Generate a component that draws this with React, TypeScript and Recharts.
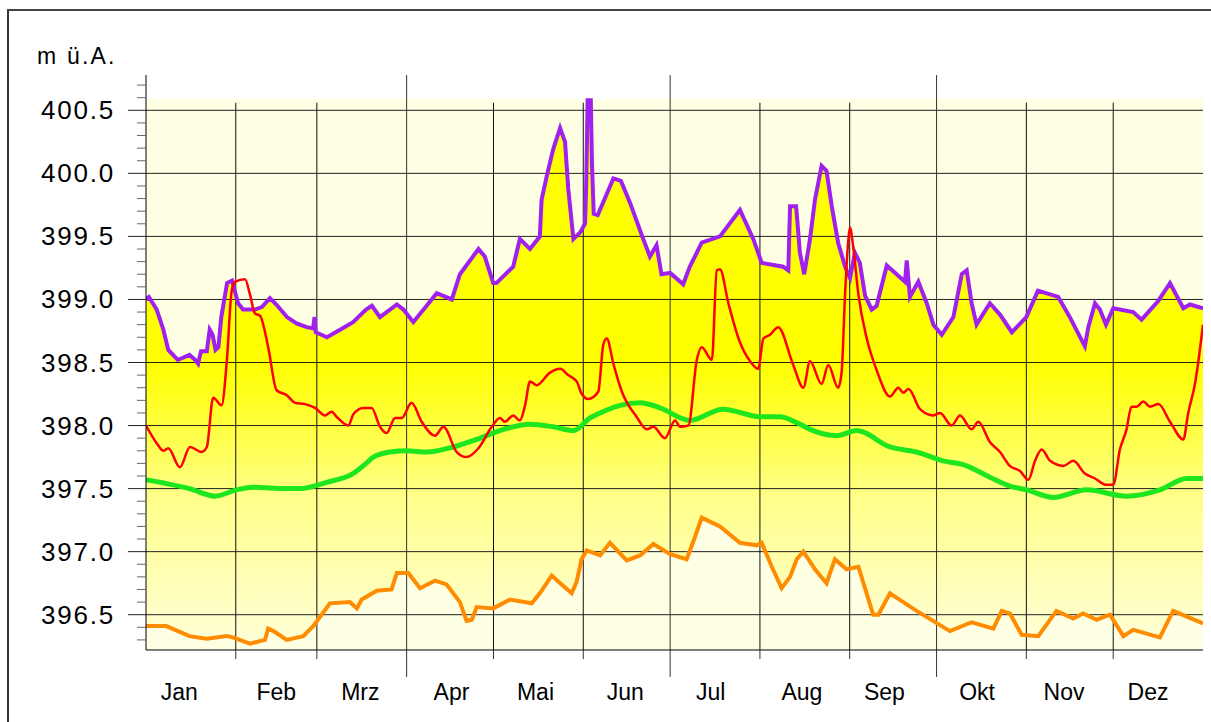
import {
  ComposedChart,
  Area,
  Line,
  XAxis,
  YAxis,
  ReferenceLine,
  ReferenceArea,
} from "recharts";

// Tagesindex (0 = 1. Jan) und Pegelwerte in m ü.A.
const maxDays = [
  0, 1, 3.7, 6, 7.7, 11, 15, 17, 18, 19, 21, 22, 23, 24, 25, 25.5, 26, 28, 29.7, 31.8, 33.5, 37.6, 40,
  42.8, 45, 48.7, 52, 55.5, 57.7, 58.2, 58.6, 62.5, 67, 71.5, 76, 78, 80.8, 86.6, 88.9, 92.3, 100.4,
  105.6, 108.4, 114.8, 117, 119.9, 121, 126.8, 129.1, 132.6, 136, 136.6, 138.4, 140.6, 143, 144.7,
  145.8, 147.6, 149.9, 151.6, 152, 152.5, 153.6, 154, 154.6, 156, 161.4, 164, 167.1, 171.2, 174,
  176.3, 178, 181, 185.5, 187.8, 191.9, 198.2, 205.1, 209.7, 212.6, 220, 221.8, 222.4, 224.5, 225.8,
  227.3, 229.3, 231, 233.3, 235, 236.8, 239, 241.4, 243.1, 244.8, 246.5, 248.3, 250.6, 252.3, 255.8,
  259.2, 262.1, 262.7, 263.8, 266.7, 269.6, 271.9, 274.8, 278.8, 281.7, 283.4, 285.1, 286.8, 291.4,
  294.9, 299, 304, 308, 315, 319, 324.2, 325.4, 327.7, 329.4, 331.5, 334, 340.9, 343.8, 349.6, 353.6,
  358.2, 360.5, 365,
];
const maxVals = [
  399.0, 399.02, 398.92, 398.76, 398.6, 398.52, 398.56, 398.52, 398.49, 398.59, 398.59, 398.76, 398.72,
  398.6, 398.62, 398.74, 398.86, 399.13, 399.15, 398.97, 398.92, 398.92, 398.94, 399.01, 398.96, 398.86,
  398.81, 398.78, 398.77, 398.86, 398.74, 398.7, 398.76, 398.82, 398.92, 398.95, 398.86, 398.96, 398.92,
  398.82, 399.05, 399.0, 399.2, 399.4, 399.34, 399.13, 399.13, 399.26, 399.48, 399.4, 399.5, 399.79,
  399.98, 400.19, 400.36, 400.25, 399.88, 399.48, 399.53, 399.6, 399.9, 400.58, 400.58, 400.08, 399.68,
  399.67, 399.96, 399.94, 399.77, 399.51, 399.34, 399.43, 399.2, 399.21, 399.12, 399.26, 399.45, 399.5,
  399.71, 399.48, 399.29, 399.26, 399.23, 399.74, 399.74, 399.37, 399.2, 399.48, 399.79, 400.06, 400.02,
  399.74, 399.45, 399.26, 399.17, 399.37, 399.29, 399.03, 398.92, 398.95, 399.27, 399.2, 399.14, 399.31,
  399.02, 399.14, 398.97, 398.8, 398.72, 398.86, 399.2, 399.23, 398.97, 398.8, 398.97, 398.88, 398.74,
  398.86, 399.07, 399.02, 398.86, 398.63, 398.78, 398.97, 398.92, 398.8, 398.93, 398.9, 398.84, 398.99,
  399.13, 398.93, 398.96, 398.93,
];

const meanDays = [
  0, 7, 15, 23.8, 31.3, 37, 48.6, 53.2, 62.4, 71.6, 76, 78.5, 84.3, 90, 96.9, 106.1, 114.2, 122.2, 132.6,
  140.6, 147.6, 153.3, 156.8, 163.7, 170.6, 177.5, 187.8, 199.3, 212, 218.9, 225, 229.3, 238.5, 245.4,
  256.9, 266.1, 275.3, 282.2, 291.4, 298.3, 304.1, 313.3, 324.8, 338.6, 350.1, 359.4, 365,
];
const meanVals = [
  397.57, 397.54, 397.5, 397.44, 397.49, 397.51, 397.5, 397.5, 397.55, 397.62, 397.7, 397.75, 397.79,
  397.8, 397.79, 397.83, 397.89, 397.96, 398.01, 397.99, 397.96, 398.06, 398.1, 398.16, 398.18, 398.14,
  398.04, 398.13, 398.07, 398.07, 398.02, 397.97, 397.92, 397.96, 397.83, 397.79, 397.72, 397.69, 397.59,
  397.52, 397.49, 397.43, 397.49, 397.44, 397.49, 397.58, 397.58,
];

const minDays = [
  0, 7, 15, 21, 27.9, 30, 35.9, 41.1, 42.2, 44, 48.6, 54.3, 57.8, 63.5, 70.4, 72.8, 74.5, 79.7, 84.8, 86.6,
  90.6, 94.6, 99.8, 103.8, 108.4, 110.7, 112.5, 114.2, 119.9, 125.7, 133.2, 136, 140.1, 143.5, 147, 148.7,
  150.4, 152.2, 156.8, 160.2, 166, 170.6, 175.2, 181, 186.7, 189, 191.9, 198.2, 205.1, 210.9, 212.6,
  216.1, 219.5, 222.4, 224.7, 227, 231, 235, 237.9, 241.9, 246, 251.1, 252.9, 256.9, 266.1, 277.6,
  285.1, 292.6, 295.5, 298.3, 302.4, 308.1, 314.4, 320.2, 323.6, 328.3, 332.9, 337.5, 340.9, 350.1,
  354.7, 365,
];
const minVals = [
  396.41, 396.41, 396.33, 396.31, 396.33, 396.32, 396.27, 396.3, 396.39, 396.37, 396.3, 396.33, 396.41,
  396.59, 396.6, 396.55, 396.62, 396.69, 396.7, 396.83, 396.83, 396.71, 396.77, 396.74, 396.6, 396.45,
  396.46, 396.56, 396.55, 396.62, 396.59, 396.67, 396.81, 396.74, 396.67, 396.76, 396.94, 397.01, 396.97,
  397.07, 396.93, 396.97, 397.06, 396.98, 396.94, 397.08, 397.27, 397.2, 397.07, 397.05, 397.07, 396.88,
  396.71, 396.8, 396.94, 397.0, 396.86, 396.75, 396.94, 396.86, 396.88, 396.5, 396.5, 396.67, 396.53,
  396.37, 396.44, 396.39, 396.53, 396.51, 396.34, 396.33, 396.53, 396.47, 396.51, 396.46, 396.5, 396.33,
  396.38, 396.32, 396.53, 396.43,
];

const curDays = [
  0, 3.7, 6, 7.7, 11.7, 15.2, 19.2, 21, 23.2, 26.1, 27.9, 29.6, 30.7, 34.2, 35.9, 37.6, 39.4, 42.2, 45.1,
  48.6, 51.5, 54.9, 58.4, 61.8, 64.1, 65.8, 69.9, 71.6, 75, 77.9, 80.8, 83.1, 86, 88.3, 91.7, 95.2, 99.8,
  102.7, 107.3, 110.7, 114.8, 119.4, 122.2, 123.9, 126.8, 129.1, 130.9, 132.6, 134.9, 139.5, 143, 145.8,
  148.7, 150.5, 152.7, 156.2, 157.9, 159.1, 161.4, 164.3, 169.4, 172.9, 175.2, 179.2, 182.7, 184.4,
  187.3, 190.2, 191.9, 195.4, 197.1, 198.2, 201.1, 205.1, 208.6, 211.4, 213.2, 215.5, 218.3, 223.5, 227,
  229.3, 233.3, 235.6, 239, 240.2, 241.4, 242.6, 243.1, 244.3, 246, 248.9, 252.3, 256.9, 259.8, 261.5,
  263.3, 267.3, 271.9, 274.2, 278.2, 281.1, 285.1, 287.4, 291.4, 294.9, 298.3, 301.8, 304.7, 307, 309.3,
  312.2, 316.8, 320.2, 324.2, 327.7, 331.7, 334, 336.3, 338.6, 340.3, 342.1, 344.4, 346.7, 349.6, 353.6,
  358.2, 359.9, 362.3, 365,
];
const curVals = [
  398.0, 397.86, 397.8, 397.82, 397.67, 397.83, 397.79, 397.83, 398.22, 398.16, 398.51, 399.07, 399.14,
  399.16, 399.04, 398.89, 398.87, 398.62, 398.28, 398.24, 398.18, 398.17, 398.14, 398.08, 398.11, 398.07,
  398.0, 398.09, 398.14, 398.14, 397.99, 397.94, 398.06, 398.06, 398.18, 398.03, 397.92, 397.99, 397.79,
  397.75, 397.82, 397.99, 398.06, 398.03, 398.08, 398.04, 398.16, 398.35, 398.32, 398.42, 398.45, 398.4,
  398.35, 398.25, 398.21, 398.27, 398.64, 398.69, 398.49, 398.27, 398.07, 397.97, 397.99, 397.9, 398.04,
  397.99, 398.0, 398.52, 398.62, 398.52, 399.23, 399.24, 398.97, 398.66, 398.51, 398.45, 398.69, 398.72,
  398.78, 398.48, 398.3, 398.51, 398.33, 398.48, 398.3, 398.42, 399.04, 399.49, 399.57, 399.4, 399.04,
  398.69, 398.44, 398.23, 398.3, 398.26, 398.29, 398.13, 398.08, 398.1, 398.0, 398.08, 397.97, 398.03,
  397.87, 397.79, 397.68, 397.64, 397.57, 397.72, 397.81, 397.72, 397.68, 397.72, 397.62, 397.58, 397.53,
  397.53, 397.81, 397.97, 398.15, 398.15, 398.19, 398.15, 398.17, 398.03, 397.89, 398.1, 398.34, 398.8,
];

const monthNames = ["Jan", "Feb", "Mrz", "Apr", "Mai", "Jun", "Jul", "Aug", "Sep", "Okt", "Nov", "Dez"];
const monthLabelDays = [11.5, 45, 74, 105.5, 134.5, 165.5, 195, 226.5, 255, 287, 317, 346];
const monthStarts = [31, 59, 120, 151, 212, 243, 304, 334];
const quarterStarts = [90, 181, 273];
const yTicks = [
  396.3, 396.4, 396.5, 396.6, 396.7, 396.8, 396.9, 397.0, 397.1, 397.2, 397.3, 397.4, 397.5, 397.6,
  397.7, 397.8, 397.9, 398.0, 398.1, 398.2, 398.3, 398.4, 398.5, 398.6, 398.7, 398.8, 398.9, 399.0,
  399.1, 399.2, 399.3, 399.4, 399.5, 399.6, 399.7, 399.8, 399.9, 400.0, 400.1, 400.2, 400.3, 400.4,
  400.5, 400.6, 400.7,
];
const gridValues = [396.5, 397.0, 397.5, 398.0, 398.5, 399.0, 399.5, 400.0, 400.5];

const toRows = (days: number[], vals: number[]) => days.map((d, i) => ({ day: d, v: vals[i] }));
const maxData = toRows(maxDays, maxVals);
const meanData = toRows(meanDays, meanVals);
const minData = toRows(minDays, minVals);
const curData = toRows(curDays, curVals);

const FONT = '"Liberation Sans", Arial, sans-serif';
const BG = "#FFFFE3";

function YTick(props: any) {
  const { x, y, payload } = props;
  const v = payload.value as number;
  const major = Math.abs(v * 2 - Math.round(v * 2)) < 1e-6;
  return (
    <g>
      <line x1={x - (major ? 18 : 9)} x2={x} y1={y} y2={y} stroke={major ? "#222" : "#666"} />
      {major && (
        <text
          x={x - 31}
          y={y}
          textAnchor="end"
          dominantBaseline="central"
          fontSize={26}
          letterSpacing={1.8}
          fontFamily={FONT}
          fill="#000"
        >
          {v.toFixed(1)}
        </text>
      )}
    </g>
  );
}

function XTick(props: any) {
  const { x, y, payload } = props;
  const v = payload.value as number;
  const li = monthLabelDays.indexOf(v);
  if (li >= 0) {
    return (
      <text x={x} y={y + 42} textAnchor="middle" dominantBaseline="central" fontSize={23} fontFamily={FONT} fill="#000">
        {monthNames[li]}
      </text>
    );
  }
  const len = quarterStarts.includes(v) ? 27 : 9;
  return <line x1={x} x2={x} y1={y} y2={y + len} stroke="#333" />;
}

const xTicks = [...monthStarts, ...quarterStarts, ...monthLabelDays].sort((a, b) => a - b);

export default function App() {
  return (
    <div
      style={{
        position: "absolute",
        left: 0,
        top: 0,
        width: 1211,
        height: 722,
        overflow: "hidden",
        background: "#fff",
        fontFamily: FONT,
      }}
    >
      {/* Rahmen: nur links und oben sichtbar */}
      <div style={{ position: "absolute", left: 7, top: 9, width: 2, height: 720, background: "#333" }} />
      <div style={{ position: "absolute", left: 7, top: 9, width: 1210, height: 2, background: "#444" }} />
      <div style={{ position: "absolute", left: 37, top: 43, fontSize: 23, letterSpacing: 2.2, color: "#000" }}>
        m ü.A.
      </div>
      <ComposedChart width={1211} height={722} margin={{ top: 75, right: 8, bottom: 0, left: 0 }}>
        <defs>
          <linearGradient id="band" x1="0" y1="0" x2="0" y2="1">
            <stop offset="0%" stopColor="#FFFF00" />
            <stop offset="48%" stopColor="#FFFF00" />
            <stop offset="72%" stopColor="#FFFF88" />
            <stop offset="100%" stopColor="#FFFFDC" />
          </linearGradient>
        </defs>
        <XAxis
          type="number"
          dataKey="day"
          domain={[0, 365]}
          ticks={xTicks}
          interval={0}
          tick={XTick}
          tickLine={false}
          tickSize={0}
          tickMargin={0}
          height={72}
          axisLine={{ stroke: "#000" }}
          allowDataOverflow
        />
        <YAxis
          type="number"
          domain={[396.22, 400.78]}
          ticks={yTicks}
          interval={0}
          tick={YTick}
          tickLine={false}
          tickSize={0}
          tickMargin={0}
          width={146}
          axisLine={{ stroke: "#000" }}
          allowDataOverflow
        />
        <ReferenceArea x1={0} x2={365} y1={396.22} y2={400.59} fill={BG} fillOpacity={1} stroke="none" />
        <Area
          data={maxData}
          dataKey="v"
          type="linear"
          stroke="none"
          fill="url(#band)"
          fillOpacity={1}
          isAnimationActive={false}
        />
        <Area data={minData} dataKey="v" type="linear" stroke="none" fill={BG} fillOpacity={1} isAnimationActive={false} />
        {gridValues.map((g) => (
          <ReferenceLine key={"h" + g} y={g} stroke="#222" strokeWidth={1} />
        ))}
        {monthStarts.map((m) => (
          <ReferenceLine
            key={"m" + m}
            segment={[
              { x: m, y: 400.56 },
              { x: m, y: 396.22 },
            ]}
            stroke="#111"
          />
        ))}
        {quarterStarts.map((q) => (
          <ReferenceLine key={"q" + q} x={q} stroke="#333" />
        ))}
        <Line data={minData} dataKey="v" type="linear" stroke="#FF8C00" strokeWidth={4} dot={false} isAnimationActive={false} />
        <Line data={meanData} dataKey="v" type="monotone" stroke="#1EE61E" strokeWidth={5} dot={false} isAnimationActive={false} />
        <Line data={maxData} dataKey="v" type="linear" stroke="#A020F0" strokeWidth={4} dot={false} isAnimationActive={false} />
        <Line data={curData} dataKey="v" type="monotone" stroke="#FF0000" strokeWidth={2.5} dot={false} isAnimationActive={false} />
      </ComposedChart>
    </div>
  );
}
